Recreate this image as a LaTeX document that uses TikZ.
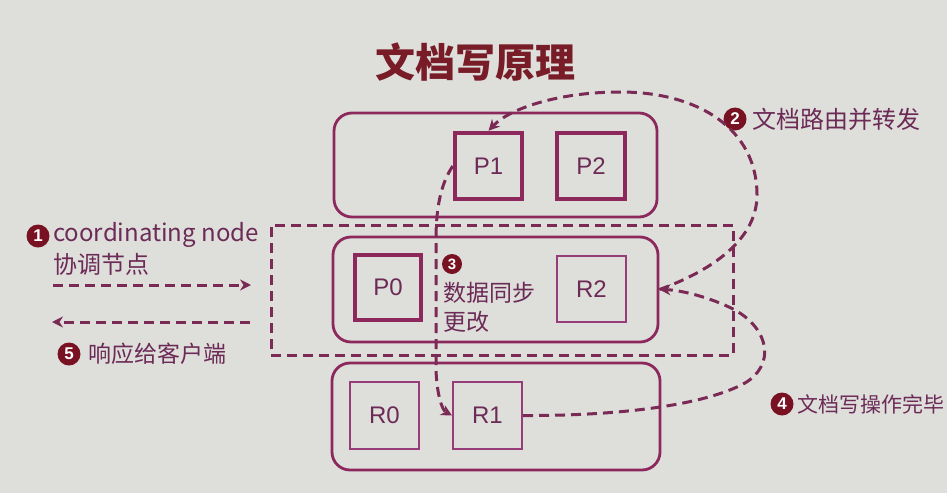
\documentclass[tikz,border=0pt]{standalone}
\usepackage{fontspec}
\setmainfont{Noto Sans CJK SC}
\newfontfamily\cjk{Noto Sans CJK SC}
\newfontfamily\arial{Liberation Sans}
\usetikzlibrary{arrows.meta}
\definecolor{bgc}{RGB}{222,223,219}
\definecolor{frame}{RGB}{140,40,92}
\definecolor{thinframe}{RGB}{150,60,120}
\definecolor{dash}{RGB}{122,42,84}
\definecolor{txt}{RGB}{108,42,86}
\definecolor{title}{RGB}{120,28,40}
\definecolor{badge}{RGB}{120,18,34}
\tikzset{
  group/.style={draw=frame, line width=2.8pt, rounded corners=18pt, inner sep=0pt},
  shard/.style={draw=frame, line width=4.5pt, inner sep=0pt, font=\arial\fontsize{24}{24}\selectfont, text=txt},
  replica/.style={draw=thinframe, line width=2pt, inner sep=0pt, font=\arial\fontsize{24}{24}\selectfont, text=txt},
  dflow/.style={draw=dash, line width=3pt, dash pattern=on 10pt off 6pt},
  tip/.style={-{Stealth[length=11pt,width=11pt]}},
  badgec/.style={circle, fill=badge, text=white, inner sep=0pt, minimum size=23pt, font=\arial\bfseries\fontsize{17}{17}\selectfont},
  lbl/.style={text=txt, anchor=west, inner sep=0pt, font=\cjk\fontsize{23}{23}\selectfont},
}
\begin{document}
\begin{tikzpicture}[x=1pt,y=-1pt]
\fill[bgc] (0,0) rectangle (947,493);
\useasboundingbox (0,0) rectangle (947,493);

\node[text=title, font=\cjk\bfseries\fontsize{40}{40}\selectfont] (ttl) at (475,62) {文档写原理};

% coordinating dashed area
\node[dflow, minimum width=462pt, minimum height=130pt, inner sep=0pt] (coord) at (502,290) {};

% groups
\node[group, minimum width=323pt, minimum height=104pt] (top) at (495.5,165) {};
\node[group, minimum width=325pt, minimum height=105pt] (mid) at (495.5,289.5) {};
\node[group, minimum width=328pt, minimum height=107pt] (bot) at (496,416.5) {};

% shards
\node[shard, minimum width=67pt, minimum height=66pt] (P1) at (488.5,166) {P1};
\node[shard, minimum width=68pt, minimum height=66pt] (P2) at (591,166) {P2};
\node[shard, minimum width=66pt, minimum height=65pt] (P0) at (388,287.5) {P0};
\node[replica, minimum width=69pt, minimum height=66pt] (R2) at (591.5,289) {R2};
\node[replica, minimum width=69pt, minimum height=67pt] (R0) at (384.5,415.5) {R0};
\node[replica, minimum width=69pt, minimum height=67pt] (R1) at (487.5,415.5) {R1};

% labels
\node[badgec] (b1) at (38,236) {1};
\node[lbl, font=\cjk\fontsize{24}{24}\selectfont] (t1) at (53,235) {coordinating node};
\node[lbl, font=\cjk\fontsize{24}{24}\selectfont] (t1b) at (53,264) {协调节点};
\node[badgec] (b5) at (69,354) {5};
\node[lbl] (t5) at (88,354) {响应给客户端};
\node[badgec] (b2) at (735,119) {2};
\node[lbl, font=\cjk\fontsize{24}{24}\selectfont] (t2) at (752,119) {文档路由并转发};
\node[badgec, minimum size=20pt, font=\arial\bfseries\fontsize{15}{15}\selectfont] (b3) at (452,264) {3};
\node[lbl] (t3) at (443,293) {数据同步};
\node[lbl] (t3b) at (443,322) {更改};
\node[badgec] (b4) at (782,404) {4};
\node[lbl, font=\cjk\fontsize{21}{21}\selectfont] (t4) at (797,404) {文档写操作完毕};

% left arrows
\coordinate (a1s) at (53,285);
\coordinate (a1e) at (251,285);
\coordinate (a5s) at (250,322);
\coordinate (a5e) at (52,322);
\draw[dflow, tip] (a1s) -- (a1e);
\draw[dflow, tip] (a5s) -- (a5e);

% step 2: route to P1
\draw[dflow, tip] (mid.east) .. controls (700,275) and (757,245) .. (757,195)
  .. controls (757,130) and (700,92) .. (620,92)
  .. controls (560,92) and (510,108) .. (P1.north);

% step 3: sync to replica
\draw[dflow, tip] (P1.west) .. controls (440,185) and (436,210) .. (436,240)
  -- (436,370) .. controls (437,395) and (442,410) .. (R1.west);

% step 4: ack
\draw[dflow, tip] (R1.east) .. controls (620,416) and (705,405) .. (745,383)
  .. controls (775,365) and (770,330) .. (735,310)
  .. controls (710,297) and (680,290) .. (mid.east);
\end{tikzpicture}
\end{document}
